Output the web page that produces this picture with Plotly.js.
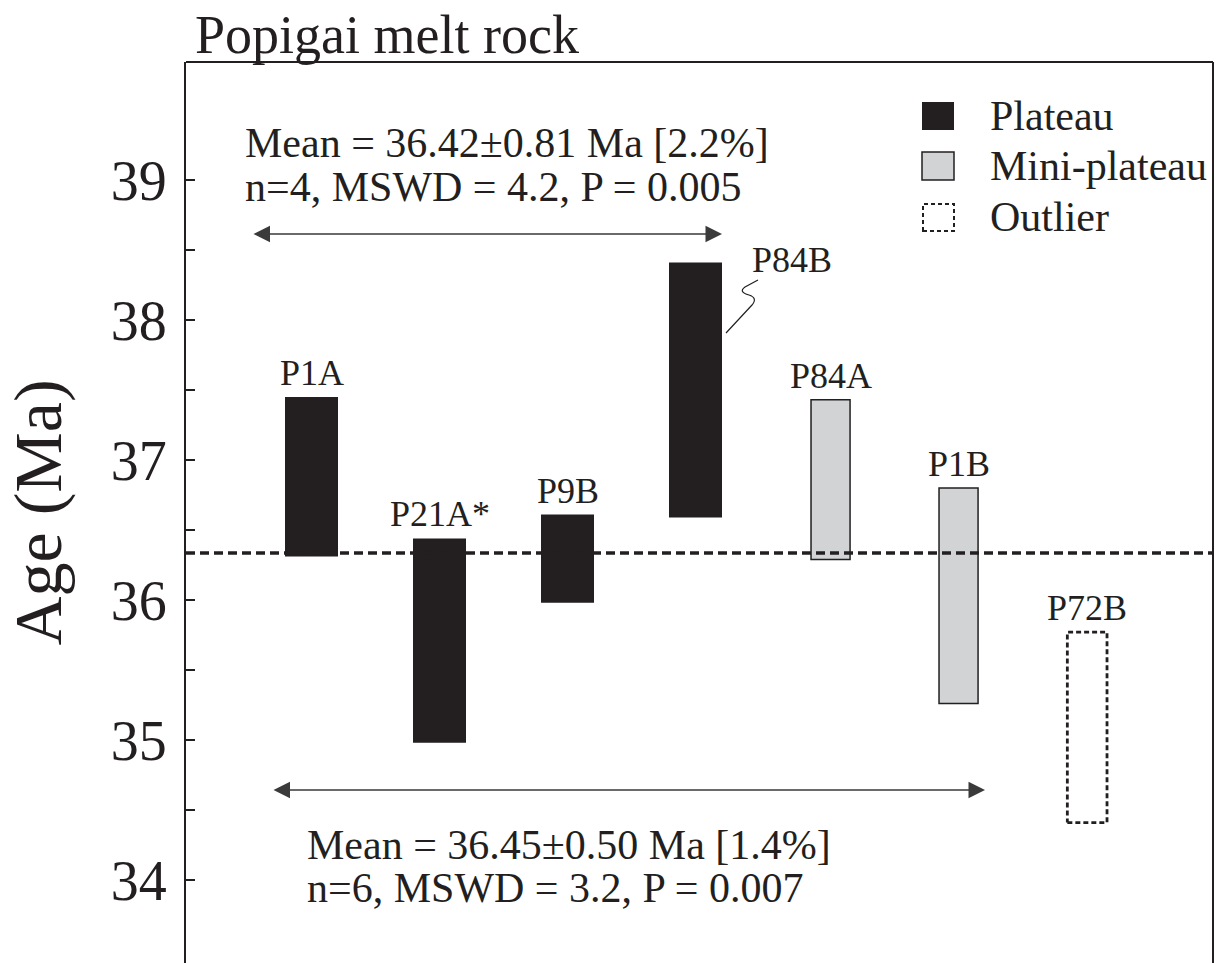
<!DOCTYPE html>
<html>
<head>
<meta charset="utf-8">
<script src="https://cdn.plot.ly/plotly-3.0.1.min.js"></script>
<style>html,body{margin:0;padding:0;background:#fff;}#chart{width:1220px;height:963px;}</style>
</head>
<body>
<div id="chart"></div>
<script>
// ---- data ----
const samples = ["P1A", "P21A*", "P9B", "P84B", "P84A", "P1B", "P72B"];
const kinds   = ["Plateau", "Plateau", "Plateau", "Plateau", "Mini-plateau", "Mini-plateau", "Outlier"];
const ageLow  = [36.31, 34.98, 35.98, 36.59, 36.29, 35.26, 34.41];
const ageHigh = [37.45, 36.44, 36.61, 38.41, 37.43, 36.80, 35.77];
const meanLine = 36.335;
const yTicks = [34, 35, 36, 37, 38, 39];
const yMinorTicks = [34.5, 35.5, 36.5, 37.5, 38.5];
const statsTop = ["Mean = 36.42\u00b10.81 Ma [2.2%]", "n=4, MSWD = 4.2, P = 0.005"];
const statsBottom = ["Mean = 36.45\u00b10.50 Ma [1.4%]", "n=6, MSWD = 3.2, P = 0.007"];
const legendNames = ["Plateau", "Mini-plateau", "Outlier"];

// ---- layout constants (slot placement) ----
const slot = [1, 2, 3, 4, 5.055, 6.055, 7.06];
const XR = [0.0195, 8.043];
const YR = [33.407, 39.843];
const FONT = "Liberation Serif";
const INK = "#231f20";
const GRAY = "#d1d3d4";

const traces = [];
const idxP = kinds.map((k,i)=>k==="Plateau"?i:-1).filter(i=>i>=0);
const idxM = kinds.map((k,i)=>k==="Mini-plateau"?i:-1).filter(i=>i>=0);
const idxO = kinds.map((k,i)=>k==="Outlier"?i:-1).filter(i=>i>=0);

traces.push({
  type: "bar", name: "Plateau",
  x: idxP.map(i=>slot[i]), base: idxP.map(i=>ageLow[i]),
  y: idxP.map(i=>ageHigh[i]-ageLow[i]),
  width: idxP.map(()=>0.414),
  marker: {color: INK, line: {color: INK, width: 0}},
  hoverinfo: "skip", showlegend: false
});
traces.push({
  type: "bar", name: "Mini-plateau",
  x: idxM.map(i=>slot[i]), base: idxM.map(i=>ageLow[i]),
  y: idxM.map(i=>ageHigh[i]-ageLow[i]),
  width: idxM.map(()=>0.305),
  marker: {color: GRAY, line: {color: INK, width: 1.5}},
  hoverinfo: "skip", showlegend: false
});
idxO.forEach(i=>{
  const w = 0.31/2;
  traces.push({
    type: "scatter", mode: "lines", name: "Outlier",
    x: [slot[i]-w, slot[i]+w, slot[i]+w, slot[i]-w, slot[i]-w],
    y: [ageLow[i], ageLow[i], ageHigh[i], ageHigh[i], ageLow[i]],
    fill: "toself", fillcolor: "rgba(255,255,255,0)",
    line: {color: INK, width: 2.8, dash: "5px,3px"},
    hoverinfo: "skip", showlegend: false
  });
});
// mean dashed line
traces.push({
  type: "scatter", mode: "lines",
  x: XR, y: [meanLine, meanLine],
  line: {color: INK, width: 3.5, dash: "9px,5px"},
  hoverinfo: "skip", showlegend: false
});

const annotations = [];
samples.forEach((s,i)=>{
  const isB = s === "P84B";
  annotations.push({
    x: isB ? slot[i]+0.75 : slot[i], y: ageHigh[i], xref: "x", yref: "y",
    text: s, showarrow: false, xanchor: "center", yanchor: "bottom",
    yshift: isB ? -19 : 2,
    font: {family: FONT, size: 36, color: INK}
  });
});
// stats text
const px2x = p => XR[0] + (p-186)/1027*(XR[1]-XR[0]);
const py2y = p => YR[1] - (p-62)/901*(YR[1]-YR[0]);
[[statsTop, 243, 143, 187], [statsBottom, 305, 845, 888]].forEach(([lines, left, y1, y2])=>{
  [y1, y2].forEach((yy, k)=>{
    annotations.push({
      x: px2x(left), y: py2y(yy), xref: "x", yref: "y",
      text: lines[k], showarrow: false, xanchor: "left", yanchor: "middle",
      font: {family: FONT, size: 42, color: INK}
    });
  });
});
// double-headed arrows
[[252, 722, 234], [272, 985, 790]].forEach(([a, b, yy])=>{
  annotations.push({
    x: px2x(b), y: py2y(yy), ax: px2x(a), ay: py2y(yy),
    xref: "x", yref: "y", axref: "x", ayref: "y",
    text: "", showarrow: true, arrowhead: 2, startarrowhead: 2, arrowside: "end+start",
    arrowsize: 2.2, startarrowsize: 2.2, arrowwidth: 1.5, arrowcolor: "#3a3a3a"
  });
});
// legend
const lgY = [116, 166, 217];
legendNames.forEach((n,k)=>{
  annotations.push({
    x: (988-186)/1027, y: 1-(lgY[k]-62)/901, xref: "paper", yref: "paper",
    text: n, showarrow: false, xanchor: "left", yanchor: "middle",
    font: {family: FONT, size: 42, color: INK}
  });
});

const shapes = [
  {type: "line", xref: "paper", yref: "paper", x0: 0, x1: 1, y0: 1, y1: 1, line: {color: INK, width: 2}},
  {type: "line", xref: "paper", yref: "paper", x0: 1, x1: 1, y0: 0, y1: 1, line: {color: INK, width: 2}}
];
const pxX = p => (p-186)/1027, pxY = p => 1-(p-62)/901;
shapes.push({type: "rect", xref: "paper", yref: "paper", x0: pxX(922), x1: pxX(954), y0: pxY(130), y1: pxY(102), fillcolor: INK, line: {width: 0}});
shapes.push({type: "rect", xref: "paper", yref: "paper", x0: pxX(922), x1: pxX(954), y0: pxY(180), y1: pxY(152), fillcolor: GRAY, line: {color: INK, width: 1.5}});
shapes.push({type: "rect", xref: "paper", yref: "paper", x0: pxX(923), x1: pxX(954), y0: pxY(231), y1: pxY(204), fillcolor: "rgba(0,0,0,0)", line: {color: INK, width: 2, dash: "4px,3px"}});
// squiggle leader for P84B
const P = (x,y) => pxX(x) + "," + pxY(y);
let path = "M " + P(726,333) + " L " + P(752,305) +
  " Q " + P(758,298) + " " + P(749,295) +
  " Q " + P(738,292) + " " + P(745,287) +
  " L " + P(758,280);
shapes.push({type: "path", xref: "paper", yref: "paper", path: path, line: {color: INK, width: 1.2}});

const layout = {
  width: 1220, height: 963,
  margin: {l: 186, r: 7, t: 62, b: 0, pad: 0},
  paper_bgcolor: "#fff", plot_bgcolor: "#fff",
  showlegend: false, barmode: "overlay",
  font: {family: FONT, color: INK},
  title: {text: "Popigai melt rock", xref: "container", yref: "container", x: 195/1220, xanchor: "left", y: 1-34/963, yanchor: "middle",
          font: {family: FONT, size: 54, color: INK}},
  xaxis: {range: XR, visible: false, showgrid: false, zeroline: false, fixedrange: true},
  yaxis: {range: YR, tickvals: yTicks, ticktext: yTicks.map(String),
          showline: true, linewidth: 2, linecolor: INK, ticks: "inside", ticklen: 9, tickwidth: 2, tickcolor: INK,
          minor: {ticks: "inside", tickvals: yMinorTicks, ticklen: 9, tickwidth: 2, tickcolor: INK},
          ticklabelstandoff: 6,
          tickfont: {family: FONT, size: 56, color: INK},
          showgrid: false, zeroline: false, fixedrange: true,
          title: {text: "Age (Ma)", font: {family: FONT, size: 68, color: INK}, standoff: 32}},
  annotations: annotations, shapes: shapes
};
Plotly.newPlot("chart", traces, layout, {displayModeBar: false, staticPlot: true});
</script>
</body>
</html>
